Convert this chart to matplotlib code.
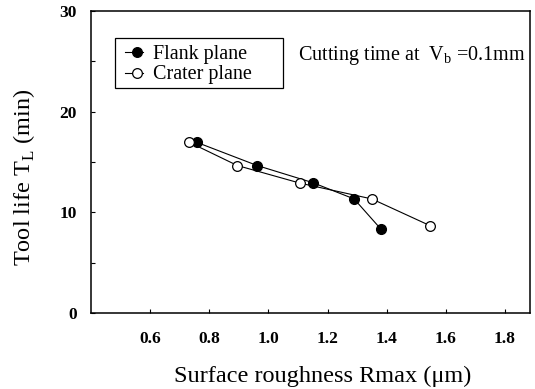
import matplotlib
matplotlib.use("Agg")
import matplotlib.pyplot as plt
from matplotlib.ticker import MultipleLocator
from matplotlib.patches import Rectangle
from matplotlib.lines import Line2D

flank_x = [0.758, 0.962, 1.150, 1.290, 1.381]
flank_y = [16.95, 14.65, 12.95, 11.33, 8.32]
crater_x = [0.733, 0.895, 1.107, 1.350, 1.548]
crater_y = [16.95, 14.65, 12.90, 11.33, 8.66]
xticks = [0.6, 0.8, 1.0, 1.2, 1.4, 1.6, 1.8]
xticklabels = ["0.6", "0.8", "1.0", "1.2", "1.4", "1.6", "1.8"]
yticks = [0, 10, 20, 30]
series_labels = ["Flank plane", "Crater plane"]

plt.rcParams['font.family'] = ['Liberation Serif', 'DejaVu Serif']
plt.rcParams['mathtext.fontset'] = 'custom'
plt.rcParams['mathtext.rm'] = 'Liberation Serif'

fig = plt.figure(figsize=(5.35, 3.89), dpi=100)
ax = fig.add_axes([0.1701, 0.1954, 0.8206, 0.7763])

ms = 7
ax.plot(flank_x, flank_y, '-', color='black', lw=0.8, marker='o', ms=ms,
        mfc='black', mec='black', zorder=3)
ax.plot(crater_x, crater_y, '-', color='black', lw=0.8, marker='o', ms=ms,
        mfc='white', mec='black', mew=0.9, zorder=3)

ax.set_xlim(0.4, 1.885)
ax.set_ylim(0, 30)
ax.set_xticks(xticks)
ax.set_xticklabels(xticklabels)
ax.set_yticks(yticks)
ax.yaxis.set_minor_locator(MultipleLocator(5))
ax.tick_params(axis='both', which='both', direction='in', length=3, width=0.8)
ax.tick_params(axis='x', pad=13)
ax.tick_params(axis='y', pad=10)
for lab in ax.get_xticklabels() + ax.get_yticklabels():
    lab.set_fontweight('bold')
    lab.set_fontsize(12.5)
for s in ax.spines.values():
    s.set_linewidth(1.1)

ax.set_xlabel('Surface roughness Rmax (μm)', fontsize=17.5, va='baseline')
ax.xaxis.set_label_coords(0.528, -0.2275)
ax.set_ylabel(r'Tool life T$_\mathregular{L}$ (min)', fontsize=17.5, va='center')
ax.yaxis.set_label_coords(-0.1526, 0.449)

# legend box (drawn in axes coordinates)
ax.add_patch(Rectangle((0.0547, 0.744), 0.438 - 0.0547, 0.9096 - 0.744,
                       transform=ax.transAxes, fill=False, ec='black', lw=0.9,
                       zorder=4))
rows_y = [0.8632, 0.7957]
base_y = [0.841, 0.7738]
fills = ['black', 'white']
for lab, ry, by, fc in zip(series_labels, rows_y, base_y, fills):
    ax.add_line(Line2D([0.0774, 0.1191], [ry, ry], transform=ax.transAxes,
                       color='black', lw=0.8, zorder=4))
    ax.add_line(Line2D([0.1041], [ry], transform=ax.transAxes, marker='o',
                       ms=ms, mfc=fc, mec='black', mew=0.9, zorder=5))
    ax.text(0.1419, by, lab, transform=ax.transAxes, fontsize=14.5,
            ha='left', va='baseline')

ax.text(0.4722, 0.8377, r'Cutting time at  V$_\mathregular{b}$ =0.1mm',
        transform=ax.transAxes, fontsize=14.5, ha='left', va='baseline')

fig.savefig('out.png', dpi=100)
